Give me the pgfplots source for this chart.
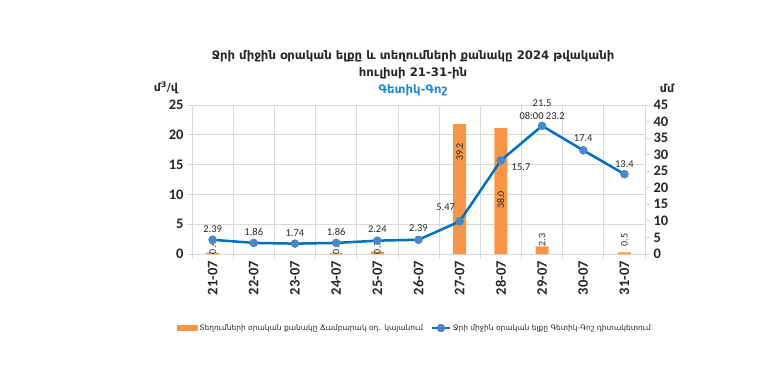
\documentclass[border=0pt]{standalone}
\usepackage{pgfplots}
\usepackage{pgfplotstable}
\pgfplotsset{compat=1.18}
\usepackage{fontspec}
\setmainfont{DejaVu Sans}
\newfontfamily\num{Carlito}
\definecolor{barorange}{RGB}{247,150,70}
\definecolor{lineblue}{RGB}{0,112,192}
\definecolor{markblue}{RGB}{74,134,200}
\definecolor{titleblue}{RGB}{30,136,214}
\definecolor{gridgray}{RGB}{217,217,217}
\definecolor{txt}{RGB}{38,38,38}

\pgfplotstableread{
x y
0 2.39
1 1.86
2 1.74
3 1.86
4 2.24
5 2.39
6 5.47
7 15.7
8 21.5
9 17.4
10 13.4
}\flowdata

\pgfplotstableread{
x y
0 0.4
3 0.3
4 0.7
6 39.2
7 38.0
8 2.3
10 0.5
}\raindata

\pgfplotstableread[col sep=comma]{
x,y,lbl
0,4.19,2.39
1,3.74,1.86
2,3.57,1.74
3,3.74,1.86
4,4.19,2.24
5,4.36,2.39
5.66,7.89,5.47
7.49,14.6,15.7
8,25.34,21.5
8,23.2,08:00 23.2
9,19.41,17.4
10,15.1,13.4
}\flowlabels

\pgfplotstableread[col sep=comma]{
x,y,lbl
0,1.9,0.4
3,1.9,0.3
4,1.9,0.7
6,30.8,39.2
7,16.3,38.0
8,4.2,2.3
10,4.2,0.5
}\rainlabels

\pgfplotsset{common/.style={
  scale only axis, width=453pt, height=149pt,
  at={(192pt,121pt)}, anchor=south west,
  xmin=-0.5, xmax=10.5, clip=false,
  /pgf/number format/assume math mode=true}}

\begin{document}
\begin{tikzpicture}
\path[use as bounding box] (0,0) rectangle (784pt,375pt);

% axis 1: grid, left axis, x labels
\begin{axis}[common,
  ymin=0, ymax=25, ytick={0,5,...,25},
  ymajorgrids, xminorgrids,
  grid style={gridgray, line width=0.8pt},
  minor grid style={gridgray, line width=0.8pt},
  xtick={0,...,10},
  xticklabels={21-07,22-07,23-07,24-07,25-07,26-07,27-07,28-07,29-07,30-07,31-07},
  minor xtick={-0.5,0.5,...,10.5},
  major x tick style={draw=none},
  minor x tick style={gridgray, line width=0.8pt},
  y tick style={gridgray, line width=0.8pt},
  tick align=outside,
  major tick length=5pt, minor tick length=5pt,
  axis x line*=bottom, axis y line*=left,
  axis line style={gridgray, line width=0.8pt},
  x tick label style={rotate=90, anchor=east, font=\num\bfseries\fontsize{14.5}{14.5}\selectfont, text=txt, inner sep=2pt},
  y tick label style={font=\num\bfseries\fontsize{14.5}{14.5}\selectfont, text=txt},
]
\addplot[draw=none] coordinates {(0,0)};
\end{axis}

% axis 2: bars, right axis
\begin{axis}[common,
  ymin=0, ymax=45, ytick={0,5,...,45},
  axis y line*=right, axis x line=none,
  y tick style={gridgray, line width=0.8pt},
  tick align=outside, major tick length=5pt,
  axis line style={gridgray, line width=0.8pt},
  y tick label style={font=\num\bfseries\fontsize{14.5}{14.5}\selectfont, text=txt},
]
\addplot[ybar, bar width=13pt, fill=barorange, draw=none] table[x=x,y=y] {\raindata};
\addplot[only marks, mark=none, nodes near coords, point meta=explicit symbolic,
  nodes near coords align=center,
  every node near coord/.append style={rotate=90, font=\num\fontsize{10}{10}\selectfont, text=txt, inner sep=0pt}]
  table[x=x,y=y,meta=lbl] {\rainlabels};
\end{axis}

% axis 3: line
\begin{axis}[common,
  ymin=0, ymax=25,
  axis lines=none, ticks=none,
  legend columns=2,
  legend style={draw=none, fill=none, at={(0.492,-0.497)}, anchor=center,
    font=\fontsize{7.5}{9}\selectfont, text=txt,
    /tikz/every even column/.append style={column sep=6pt}},
]
\addlegendimage{legend image code/.code={\fill[barorange] (0pt,-2.5pt) rectangle (20pt,2.5pt);}}
\addlegendentry{Տեղումների օրական քանակը Ճամբարակ օդ. կայանում}
\addplot[lineblue, line width=2.5pt, mark=*, mark size=4pt,
  mark options={fill=markblue, draw=markblue, line width=0.5pt}]
  table[x=x,y=y] {\flowdata};
\addlegendentry{Ջրի միջին օրական ելքը Գետիկ-Գոշ դիտակետում}
\addplot[only marks, mark=none, nodes near coords, point meta=explicit symbolic,
  nodes near coords align=center,
  every node near coord/.append style={font=\num\fontsize{10.5}{10.5}\selectfont, text=txt, inner sep=0pt}]
  table[x=x,y=y,meta=lbl] {\flowlabels};
\draw[gray!70, line width=0.4pt] (axis cs:5.8,7.2) -- (axis cs:6,5.47);
\draw[gray!70, line width=0.4pt] (axis cs:7,15.7) -- (axis cs:7.2,15.1);
\end{axis}

% titles
\node[font=\bfseries\fontsize{11.7}{13}\selectfont, text=txt] at (413pt,319pt) {Ջրի միջին օրական ելքը և տեղումների քանակը 2024 թվականի};
\node[font=\bfseries\fontsize{11.7}{13}\selectfont, text=txt] at (413pt,302pt) {հուլիսի 21-31-ին};
\node[font=\bfseries\fontsize{11.7}{13}\selectfont, text=titleblue] at (413pt,285pt) {Գետիկ-Գոշ};
\node[font=\bfseries\fontsize{11}{12}\selectfont, text=txt] at (166pt,287pt) {մ\textsuperscript{3}/վ};
\node[font=\bfseries\fontsize{11}{12}\selectfont, text=txt] at (667pt,287pt) {մմ};
\end{tikzpicture}
\end{document}
